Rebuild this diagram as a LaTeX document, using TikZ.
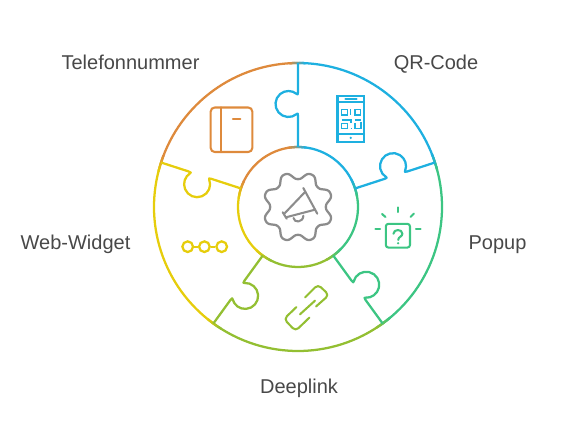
\documentclass[tikz,border=0pt]{standalone}
\usepackage{fontspec}
\setmainfont{Liberation Sans}
\definecolor{wblue}{HTML}{1EB0E0}
\definecolor{worange}{HTML}{DE8A3C}
\definecolor{wyellow}{HTML}{E6CD0C}
\definecolor{wlime}{HTML}{93BF32}
\definecolor{wgreen}{HTML}{3CC583}
\definecolor{wgray}{HTML}{8C8C8C}
\definecolor{wtext}{HTML}{484848}
\tikzset{
  wheel/.style={line width=1.7pt},
  icon/.style={line width=1.55pt,line cap=round,line join=round},
  label/.style={font=\fontsize{15}{18}\selectfont,text=wtext,inner sep=0pt,anchor=base}
}
\begin{document}
\begin{tikzpicture}[x=0.75pt,y=-0.75pt]
\useasboundingbox (0,0) rectangle (564,448);
% wheel: local y points up from the centre
\begin{scope}[shift={(298,207)},yscale=-1]
\foreach \from/\col in {18/wblue,90/worange,162/wyellow,234/wlime,306/wgreen}{
  \draw[wheel,\col] (\from:144) arc[start angle=\from,delta angle=72,radius=144];
  \draw[wheel,\col] (\from:60) arc[start angle=\from,delta angle=72,radius=60];
}
% colour runs over at the joints
\foreach \ang/\cola/\colb in {18/wgreen/wblue,90/wblue/worange,162/worange/wyellow,234/wyellow/wlime,306/wlime/wgreen}{
  \foreach \i [evaluate=\i as \p using int(\i*10)] in {0,...,10}{
    \draw[wheel,color=\colb!\p!\cola] (\ang-3+\i*0.6:144) arc[start angle=\ang-3+\i*0.6,delta angle=0.8,radius=144];
    \draw[wheel,color=\colb!\p!\cola] (\ang-8+\i*1.6:60) arc[start angle=\ang-8+\i*1.6,delta angle=1.8,radius=60];
  }
}
% puzzle seams
\foreach \ang/\col in {90/wblue,18/wblue,-54/wgreen,-126/wlime,162/wyellow}{
  \begin{scope}[rotate=90-\ang]
    \draw[wheel,\col,line join=round] (0,60) -- (0,91) .. controls (0,93.5) and (-0.6,94) .. (-1.14,93.04)
      arc[start angle=-50,end angle=-310,radius=13]
      .. controls (-0.6,112) and (0,112.5) .. (0,115) -- (0,144);
  \end{scope}
}
\draw[icon,wgray,line width=1.7pt] plot[domain=0:360,samples=181,smooth] (\x:{31.5+3.9*cos(8*(\x-22.5))-0.25*cos(24*(\x-22.5))}) -- cycle;
\end{scope}
% megaphone
\draw[icon,wgray] (303.3,188) -- (317.3,213.7);
\draw[icon,wgray] (305,192) -- (284.3,213.7);
\draw[icon,wgray] (315,209.7) -- (286,217.3);
\draw[icon,wgray] (282.7,212.3) -- (286.7,218.7);
\draw[icon,wgray] (293.5,218) .. controls (294,223) and (303,223) .. (303.4,215.7);
% phone
\draw[icon,wblue,line join=miter] (337.5,96) rectangle (364,142);
\draw[icon,wblue] (337.5,102) -- (364,102);
\draw[icon,wblue] (337.5,134.3) -- (364,134.3);
\draw[icon,wblue] (345.5,99.3) -- (356.5,99.3);
\fill[wblue] (350.7,137.9) circle (1.3);
\begin{scope}[wblue,line width=1.1pt]
\draw (341.7,109.3) rectangle (347.3,115);
\draw (350.3,109.3) -- (350.3,115);
\draw (355,109.3) rectangle (360.7,115);
\draw (341.7,120) -- (351,120) -- (351,123.5);
\draw (341.7,123.5) rectangle (347.3,128.5);
\draw (350.5,128.5) -- (352,128.5);
\draw (354.5,120) -- (361,120);
\draw (355,123) -- (355,128.5) -- (361,128.5) -- (361,122.5);
\end{scope}
% book
\draw[icon,worange,rounded corners=3] (210.7,107.5) rectangle (252.3,152);
\draw[icon,worange] (221,107.5) -- (221,152);
\draw[icon,worange] (232.8,119.3) -- (240.3,119.3);
% popup
\draw[icon,wgreen,rounded corners=2] (385.8,223.8) rectangle (410,247.6);
\draw[icon,wgreen] (393.4,233.8) .. controls (393.6,228.8) and (402.4,228.8) .. (402.4,233.8) .. controls (402.4,236.6) and (398.2,236.8) .. (398.2,240);
\fill[wgreen] (398.1,243.2) circle (1.3);
\draw[icon,wgreen] (398,207.5) -- (398,212);
\draw[icon,wgreen] (375.5,229.4) -- (380,229.4);
\draw[icon,wgreen] (416,229.4) -- (420.5,229.4);
\draw[icon,wgreen] (382,214) -- (385.5,217);
\draw[icon,wgreen] (414,213.5) -- (410.5,217);
% widget
\node[draw=wyellow,line width=1.7pt,circle,minimum size=8pt,inner sep=0pt] (w1) at (187.7,246.7) {};
\node[draw=wyellow,line width=1.7pt,circle,minimum size=8pt,inner sep=0pt] (w2) at (204.4,246.7) {};
\node[draw=wyellow,line width=1.7pt,circle,minimum size=8pt,inner sep=0pt] (w3) at (221.7,246.7) {};
\draw[wyellow,line width=1.7pt] (w1) -- (w2);
\draw[wyellow,line width=1.7pt] (w2) -- (w3);
% link
\draw[icon,wlime,rounded corners=3] (305,297.5) -- (318,284.5) -- (329,295) -- (316,306.5);
\draw[icon,wlime] (300,314.3) -- (315,300.7);
\draw[icon,wlime,rounded corners=3] (296.5,307) -- (284,319) -- (295.5,331) -- (309.5,317.5);
% labels
\node[label] (tel) at (130.5,70) {Telefonnummer};
\node[label] (qr) at (436,70) {QR-Code};
\node[label] (popup) at (497.5,250) {Popup};
\node[label] (web) at (75.5,250) {Web-Widget};
\node[label] (deep) at (299,394) {Deeplink};
\end{tikzpicture}
\end{document}
